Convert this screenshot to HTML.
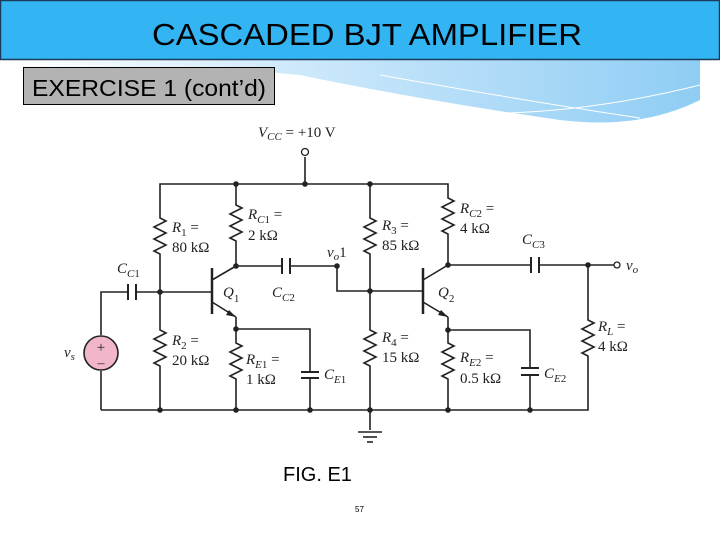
<!DOCTYPE html>
<html><head><meta charset="utf-8"><style>
html,body{margin:0;padding:0;background:#fff;width:720px;height:540px;overflow:hidden}
</style></head><body>
<svg width="720" height="540" viewBox="0 0 720 540" xmlns="http://www.w3.org/2000/svg" font-family="Liberation Serif, serif">
<defs>
<linearGradient id="w" x1="0" y1="0" x2="1" y2="0">
<stop offset="0" stop-color="#ffffff"/><stop offset="0.4" stop-color="#cfe9fb"/><stop offset="1" stop-color="#8fcdf4"/></linearGradient>
</defs>
<path d="M15 60 L700 60 L700 100 Q640 130 560 120 Q420 100 300 75 Q150 60 15 80 Z" fill="url(#w)"/>
<path d="M430 112 Q560 120 700 85" stroke="#fff" stroke-width="1" fill="none"/>
<path d="M380 75 Q520 100 640 118" stroke="#fff" stroke-width="1" fill="none"/>
<rect x="0.5" y="0.5" width="719" height="59" fill="#33b4f3" stroke="#1a3c5a" stroke-width="1.5"/>
<text x="152" y="45" font-family="Liberation Sans, sans-serif" font-size="31" textLength="430" lengthAdjust="spacingAndGlyphs" fill="#000">CASCADED BJT AMPLIFIER</text>
<rect x="23.5" y="67.5" width="251" height="37" fill="#b3b3b3" stroke="#000"/>
<text x="32" y="96" font-family="Liberation Sans, sans-serif" font-size="23" textLength="234" lengthAdjust="spacingAndGlyphs" fill="#000">EXERCISE 1 (cont’d)</text>

<g stroke="#222" stroke-width="1.6" fill="none">
<polyline points="160,215 160,184 448,184 448,195"/>
<line x1="305" y1="157" x2="305" y2="184"/>
<polyline points="101,335 101,292 128,292"/>
<line x1="136" y1="292" x2="212" y2="292"/>
<line x1="101" y1="371" x2="101" y2="410"/>
<polyline points="101,410 588,410 588,360"/>
<line x1="160" y1="258" x2="160" y2="327"/>
<line x1="160" y1="372" x2="160" y2="410"/>
<polyline points="160,215 160,218 166,221 154,227 166,233 154,239 166,245 154,251 160,254 160,258"/>
<polyline points="160,327 160,330 166,333 154,339 166,345 154,351 166,357 154,363 160,366 160,372"/>
<line x1="236" y1="184" x2="236" y2="202"/>
<polyline points="236,202 236,205 242,208 230,214 242,220 230,226 242,232 230,238 236,241 236,247"/>
<line x1="236" y1="247" x2="236" y2="266"/>
<line x1="212" y1="268" x2="212" y2="314" stroke-width="2.5"/>
<line x1="212" y1="280" x2="236" y2="266"/>
<line x1="212" y1="302" x2="236" y2="317"/>
<line x1="236" y1="317" x2="236" y2="340"/>
<polyline points="236,340 236,343 242,346 230,352 242,358 230,364 242,370 230,376 236,379 236,390"/>
<line x1="236" y1="390" x2="236" y2="410"/>
<polyline points="236,329 310,329 310,372"/>
<line x1="310" y1="378" x2="310" y2="410"/>
<line x1="236" y1="266" x2="282" y2="266"/>
<line x1="290" y1="266" x2="337" y2="266"/>
<polyline points="337,266 337,291 423,291"/>
<line x1="370" y1="184" x2="370" y2="215"/>
<polyline points="370,215 370,218 376,221 364,227 376,233 364,239 376,245 364,251 370,254 370,258"/>
<line x1="370" y1="258" x2="370" y2="327"/>
<polyline points="370,327 370,330 376,333 364,339 376,345 364,351 376,357 364,363 370,366 370,372"/>
<line x1="370" y1="372" x2="370" y2="430"/>
<polyline points="448,195 448,198 454,201 442,207 454,213 442,219 454,225 442,231 448,234 448,243"/>
<line x1="448" y1="243" x2="448" y2="265"/>
<line x1="423" y1="268" x2="423" y2="314" stroke-width="2.5"/>
<line x1="423" y1="280" x2="448" y2="265"/>
<line x1="423" y1="302" x2="448" y2="317"/>
<line x1="448" y1="317" x2="448" y2="340"/>
<polyline points="448,340 448,343 454,346 442,352 454,358 442,364 454,370 442,376 448,379 448,390"/>
<line x1="448" y1="390" x2="448" y2="410"/>
<polyline points="448,330 530,330 530,368"/>
<line x1="530" y1="375" x2="530" y2="410"/>
<line x1="448" y1="265" x2="531" y2="265"/>
<line x1="539" y1="265" x2="614" y2="265"/>
<line x1="588" y1="265" x2="588" y2="317"/>
<polyline points="588,317 588,320 594,323 582,329 594,335 582,341 594,347 582,353 588,356 588,360"/>
<line x1="358" y1="432" x2="382" y2="432"/>
<line x1="363" y1="437" x2="377" y2="437"/>
<line x1="367" y1="442" x2="373" y2="442"/>
</g>
<g stroke="#222" stroke-width="2">
<line x1="128" y1="284" x2="128" y2="300"/><line x1="136" y1="284" x2="136" y2="300"/>
<line x1="282" y1="258" x2="282" y2="274"/><line x1="290" y1="258" x2="290" y2="274"/>
<line x1="531" y1="257" x2="531" y2="273"/><line x1="539" y1="257" x2="539" y2="273"/>
<line x1="301" y1="372" x2="319" y2="372"/><line x1="301" y1="378" x2="319" y2="378"/>
<line x1="521" y1="368" x2="539" y2="368"/><line x1="521" y1="375" x2="539" y2="375"/>
</g>
<polygon points="236,317 226,315 229,310" fill="#222"/>
<polygon points="448,317 438,315 441,310" fill="#222"/>
<g fill="#222">
<circle cx="236" cy="184" r="2.8"/><circle cx="305" cy="184" r="2.8"/><circle cx="370" cy="184" r="2.8"/>
<circle cx="160" cy="292" r="2.8"/><circle cx="236" cy="266" r="2.8"/><circle cx="337" cy="266" r="2.8"/>
<circle cx="370" cy="291" r="2.8"/><circle cx="236" cy="329" r="2.8"/><circle cx="448" cy="265" r="2.8"/>
<circle cx="448" cy="330" r="2.8"/><circle cx="588" cy="265" r="2.8"/>
<circle cx="160" cy="410" r="2.8"/><circle cx="236" cy="410" r="2.8"/><circle cx="310" cy="410" r="2.8"/>
<circle cx="370" cy="410" r="2.8"/><circle cx="448" cy="410" r="2.8"/><circle cx="530" cy="410" r="2.8"/>
</g>
<circle cx="305" cy="152" r="3.5" fill="#fff" stroke="#222" stroke-width="1.3"/>
<circle cx="617" cy="265" r="3" fill="#fff" stroke="#222" stroke-width="1.3"/>
<circle cx="101" cy="353" r="17" fill="#f2b6cb" stroke="#222" stroke-width="1.6"/>
<text x="101" y="352" font-size="15" text-anchor="middle" fill="#222">+</text>
<text x="101" y="367" font-size="14" text-anchor="middle" fill="#222">–</text>
<g font-size="15" fill="#222">
<text x="258" y="137"><tspan font-style="italic">V</tspan><tspan font-size="11" font-style="italic" dy="3">CC</tspan><tspan dy="-3"> = +10 V</tspan></text>
<text x="172" y="232"><tspan font-style="italic">R</tspan><tspan font-size="11" dy="4">1</tspan><tspan dy="-4"> =</tspan></text>
<text x="172" y="252">80 kΩ</text>
<text x="248" y="219"><tspan font-style="italic">R</tspan><tspan font-size="11" font-style="italic" dy="4">C</tspan><tspan font-size="11" dy="0">1</tspan><tspan dy="-4"> =</tspan></text>
<text x="248" y="240">2 kΩ</text>
<text x="117" y="273"><tspan font-style="italic">C</tspan><tspan font-size="11" font-style="italic" dy="4">C</tspan><tspan font-size="11">1</tspan></text>
<text x="223" y="297"><tspan font-style="italic">Q</tspan><tspan font-size="11" dy="5">1</tspan></text>
<text x="272" y="297"><tspan font-style="italic">C</tspan><tspan font-size="11" font-style="italic" dy="4">C</tspan><tspan font-size="11">2</tspan></text>
<text x="327" y="257"><tspan font-style="italic">v</tspan><tspan font-size="11" font-style="italic" dy="3">o</tspan><tspan dy="-3">1</tspan></text>
<text x="64" y="357"><tspan font-style="italic">v</tspan><tspan font-size="11" font-style="italic" dy="3">s</tspan></text>
<text x="172" y="345"><tspan font-style="italic">R</tspan><tspan font-size="11" dy="4">2</tspan><tspan dy="-4"> =</tspan></text>
<text x="172" y="365">20 kΩ</text>
<text x="246" y="364"><tspan font-style="italic">R</tspan><tspan font-size="11" font-style="italic" dy="4">E</tspan><tspan font-size="11">1</tspan><tspan dy="-4"> =</tspan></text>
<text x="246" y="384">1 kΩ</text>
<text x="324" y="379"><tspan font-style="italic">C</tspan><tspan font-size="11" font-style="italic" dy="4">E</tspan><tspan font-size="11">1</tspan></text>
<text x="382" y="230"><tspan font-style="italic">R</tspan><tspan font-size="11" dy="4">3</tspan><tspan dy="-4"> =</tspan></text>
<text x="382" y="250">85 kΩ</text>
<text x="382" y="342"><tspan font-style="italic">R</tspan><tspan font-size="11" dy="4">4</tspan><tspan dy="-4"> =</tspan></text>
<text x="382" y="362">15 kΩ</text>
<text x="460" y="213"><tspan font-style="italic">R</tspan><tspan font-size="11" font-style="italic" dy="4">C</tspan><tspan font-size="11">2</tspan><tspan dy="-4"> =</tspan></text>
<text x="460" y="233">4 kΩ</text>
<text x="522" y="244"><tspan font-style="italic">C</tspan><tspan font-size="11" font-style="italic" dy="4">C</tspan><tspan font-size="11">3</tspan></text>
<text x="438" y="297"><tspan font-style="italic">Q</tspan><tspan font-size="11" dy="5">2</tspan></text>
<text x="460" y="362"><tspan font-style="italic">R</tspan><tspan font-size="11" font-style="italic" dy="4">E</tspan><tspan font-size="11">2</tspan><tspan dy="-4"> =</tspan></text>
<text x="460" y="383">0.5 kΩ</text>
<text x="544" y="378"><tspan font-style="italic">C</tspan><tspan font-size="11" font-style="italic" dy="4">E</tspan><tspan font-size="11">2</tspan></text>
<text x="598" y="331"><tspan font-style="italic">R</tspan><tspan font-size="11" font-style="italic" dy="4">L</tspan><tspan dy="-4"> =</tspan></text>
<text x="598" y="351">4 kΩ</text>
<text x="626" y="270"><tspan font-style="italic">v</tspan><tspan font-size="11" font-style="italic" dy="3">o</tspan></text>
</g>
<text x="283" y="481" font-family="Liberation Sans, sans-serif" font-size="20" fill="#000">FIG. E1</text>
<text x="355" y="512" font-family="Liberation Sans, sans-serif" font-size="8" fill="#000">57</text>
</svg>
</body></html>
